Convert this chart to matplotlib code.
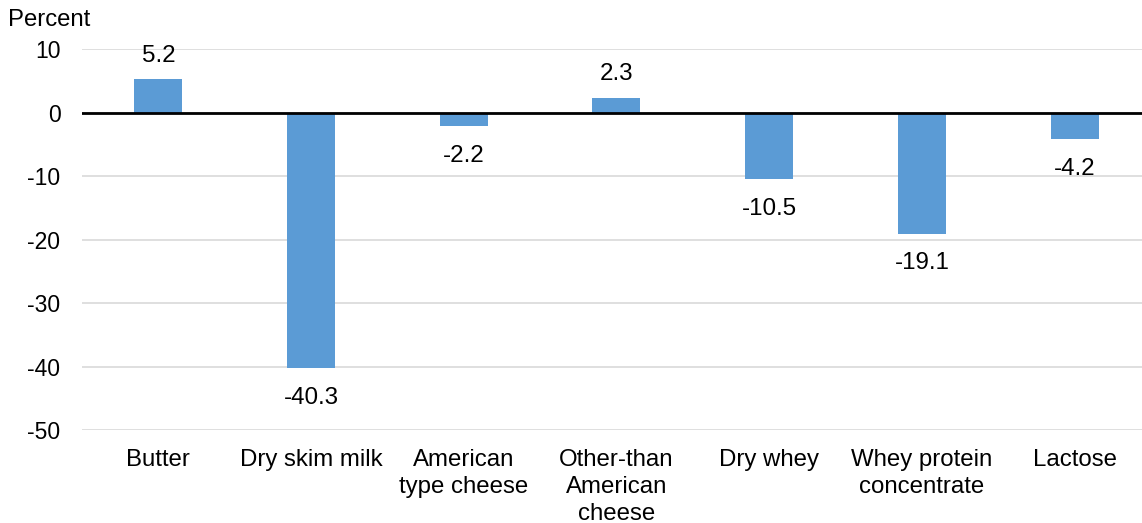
import matplotlib.pyplot as plt
import numpy as np

plt.rcParams['font.family'] = ['Liberation Sans', 'DejaVu Sans']

categories = ["Butter", "Dry skim milk", "American\ntype cheese", "Other-than\nAmerican\ncheese",
              "Dry whey", "Whey protein\nconcentrate", "Lactose"]
values = [5.2, -40.3, -2.2, 2.3, -10.5, -19.1, -4.2]
yticks = [10, 0, -10, -20, -30, -40, -50]

fig = plt.figure(figsize=(11.42, 5.23), dpi=100)
# plot area runs a little past the right edge of the image
ax = fig.add_axes([0.0718, 0.1778, 0.936, 0.7285])

x = np.arange(len(categories))
ax.bar(x, values, width=0.314, color="#5B9BD5", zorder=3)
ax.axhline(0, color="black", lw=2, zorder=4)

# value labels sit a fixed distance beyond the end of each bar
for xi, v in zip(x, values):
    dy = 12.8 if v > 0 else -25.7
    ax.annotate(f"{v}", (xi, v), xytext=(0, dy), textcoords="offset points",
                ha="center", va="baseline", fontsize=17.4, annotation_clip=False)

ax.set_xlim(-0.5, len(categories) - 0.5)
ax.set_ylim(-50, 10)
ax.set_yticks(yticks)
ax.set_yticklabels([str(t) for t in yticks])
ax.yaxis.grid(True, color="#d9d9d9", lw=1.2, zorder=0)
ax.set_xticks(x)
ax.set_xticklabels(categories, va="top", linespacing=1.28, fontsize=17.3)
ax.tick_params(axis="both", length=0)
ax.tick_params(axis="y", pad=15.5, labelsize=16.5)
ax.tick_params(axis="x", pad=14)
for s in ax.spines.values():
    s.set_visible(False)

fig.text(0.007, 0.962, "Percent", fontsize=17.2, va="center", ha="left")

fig.savefig("out.png", dpi=100)
